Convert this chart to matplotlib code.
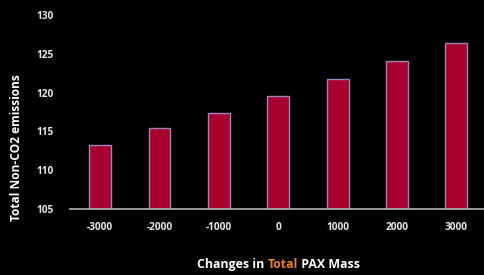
import matplotlib
matplotlib.use("Agg")
import matplotlib.pyplot as plt

categories = ["-3000", "-2000", "-1000", "0", "1000", "2000", "3000"]
values = [113.3, 115.4, 117.4, 119.5, 121.7, 124.1, 126.4]
yticks = [105, 110, 115, 120, 125, 130]

plt.rcParams['font.family'] = ['Open Sans', 'DejaVu Sans']

fig = plt.figure(figsize=(4.85, 2.75), dpi=100, facecolor='black')
ax = fig.add_axes([0.1452, 0.24, 0.857, 0.7055], facecolor='black')

x = range(len(categories))
ax.bar(x, [v - 105 for v in values], bottom=105, width=0.37,
       color='#A8002F', edgecolor='#9C86B8', linewidth=1.0, zorder=2)

ax.set_xlim(-0.5, 6.5)
ax.set_ylim(105, 130)
ax.set_yticks(yticks)
ax.set_yticklabels([str(t) for t in yticks])
ax.set_xticks(list(x))
ax.set_xticklabels(categories)
ax.tick_params(axis='both', length=0, colors='#E8E8E8', labelsize=7.3)
ax.tick_params(axis='x', pad=9)
ax.tick_params(axis='y', pad=12)
for lab in ax.get_xticklabels() + ax.get_yticklabels():
    lab.set_fontweight('bold')

for s in ['top', 'right', 'left']:
    ax.spines[s].set_visible(False)
ax.spines['bottom'].set_color('#B0B0B0')
ax.spines['bottom'].set_linewidth(1.2)

fig.text(0.033, 0.464, "Total Non-CO2 emissions", rotation=90, color='white',
         fontsize=8.6, fontweight='bold', ha='center', va='center')

t1 = fig.text(0.406, 0.025, "Changes in ", color='white', fontsize=8.9,
              fontweight='bold', ha='left', va='baseline')
t2 = ax.annotate("Total", xycoords=t1, xy=(1, 0), va='bottom', ha='left',
                 color='#F07F1E', fontsize=8.9, fontweight='bold',
                 annotation_clip=False)
t3 = ax.annotate(" PAX Mass", xycoords=t2, xy=(1, 0), va='bottom', ha='left',
                 color='white', fontsize=8.9, fontweight='bold',
                 annotation_clip=False)

fig.savefig("out.png", dpi=100, facecolor='black')
